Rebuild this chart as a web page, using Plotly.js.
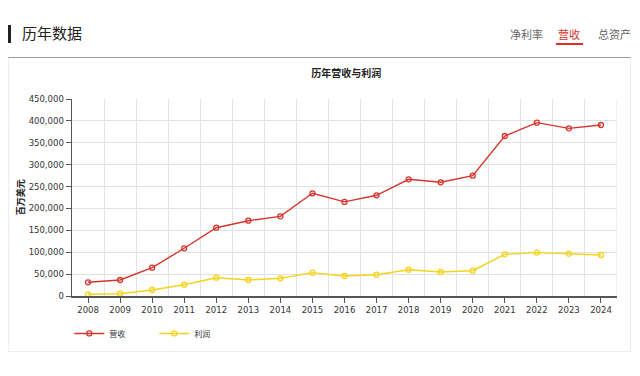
<!DOCTYPE html>
<html><head><meta charset="utf-8">
<script src="https://cdn.plot.ly/plotly-3.0.1.min.js"></script>
<style>
html,body{margin:0;padding:0;background:#fff;width:640px;height:376px;overflow:hidden;font-family:"Noto Sans CJK SC","Noto Sans",sans-serif;}
#bar{position:absolute;left:8px;top:25px;width:3px;height:18px;background:#222;}
#head{position:absolute;left:22px;top:22px;font-size:15px;color:#222;line-height:22px;}
.tab{position:absolute;top:26px;font-size:11px;color:#666;line-height:16px;}
#ul{position:absolute;left:556px;top:43px;width:27px;height:2px;background:#d9302c;}
#card{position:absolute;left:8px;top:57px;width:623px;height:295px;border:1px solid #eee;border-top:1px solid #999;box-sizing:border-box;}
#chart{position:absolute;left:0;top:0;width:640px;height:376px;}
</style></head>
<body>
<div id="bar"></div>
<div id="head">历年数据</div>
<div class="tab" style="left:510px;">净利率</div>
<div class="tab" style="left:558px;color:#d9302c;">营收</div>
<div class="tab" style="left:598px;">总资产</div>
<div id="ul"></div>
<div id="card"></div>
<div id="chart"></div>
<script>
const years = ["2008","2009","2010","2011","2012","2013","2014","2015","2016","2017","2018","2019","2020","2021","2022","2023","2024"];
const revenue = [31300,36500,64700,109000,156000,172000,182000,234600,215000,230000,266500,259700,274800,365500,396000,383000,390600];
const profit = [3900,5300,13700,25800,41800,36500,40400,53300,45700,48700,60000,54800,57800,95200,99000,96700,93700];
const yTicks = [0,50000,100000,150000,200000,250000,300000,350000,400000,450000];
const yTickText = yTicks.map(v => v.toLocaleString('en-US'));
const xIdx = years.map((_, i) => i);

const traces = [
  {x: xIdx, y: revenue, name: "营收", type: "scatter", mode: "lines+markers",
   line: {color: "#d6352d", width: 1.4},
   marker: {symbol: "circle-open", size: 5, color: "#d6352d", line: {width: 1.3}}},
  {x: xIdx, y: profit, name: "利润", type: "scatter", mode: "lines+markers",
   line: {color: "#f5d31a", width: 1.4},
   marker: {symbol: "circle-open", size: 5, color: "#f5d31a", line: {width: 1.3}}}
];

const layout = {
  width: 640, height: 376,
  margin: {l: 72, r: 23, t: 99, b: 80},
  paper_bgcolor: "rgba(0,0,0,0)", plot_bgcolor: "rgba(0,0,0,0)",
  font: {family: "DejaVu Sans, Verdana, sans-serif", size: 8.5, color: "#333"},
  title: {text: "<b>历年营收与利润</b>", x: 0.541, xanchor: "center", y: 0.805, yanchor: "middle",
          font: {family: "Noto Sans CJK SC, sans-serif", size: 10, color: "#222"}},
  xaxis: {
    range: [-0.5, 16.5], tickvals: xIdx, ticktext: years, showgrid: false,
    ticks: "outside", ticklen: 5, tickcolor: "#555", showline: true, linecolor: "#555", linewidth: 1.5,
    zeroline: false, fixedrange: true,
    minor: {tick0: 0.5, dtick: 1, showgrid: true, gridcolor: "#e2e2e2", gridwidth: 1, ticks: ""},
    tickfont: {size: 8.5, color: "#333"}
  },
  yaxis: {
    range: [0, 450000], tickvals: yTicks, ticktext: yTickText,
    showgrid: true, gridcolor: "#e2e2e2", gridwidth: 1,
    ticks: "outside", ticklen: 5, tickcolor: "#555", showline: true, linecolor: "#555", linewidth: 1.5,
    zeroline: false, fixedrange: true,
    tickfont: {size: 8.5, color: "#333"}
  },
  annotations: [
    {text: "<b>百万美元</b>", xref: "paper", yref: "paper", x: -0.094, y: 0.5, xanchor: "center", yanchor: "middle",
     textangle: -90, showarrow: false, font: {family: "Noto Sans CJK SC, sans-serif", size: 9, color: "#222"}}
  ],
  shapes: [
    {type: "line", xref: "x", yref: "paper", x0: 16.5, x1: 16.5, y0: 0, y1: 1, line: {color: "#e2e2e2", width: 1}}
  ],
  showlegend: true,
  legend: {orientation: "h", x: -0.005, xanchor: "left", y: -0.19, yanchor: "middle",
           entrywidth: 40, entrywidthmode: "pixels", itemwidth: 30,
           font: {family: "Noto Sans CJK SC, sans-serif", size: 8, color: "#333"}, bgcolor: "rgba(0,0,0,0)"}
};
Plotly.newPlot("chart", traces, layout, {displayModeBar: false, staticPlot: true});
</script>
</body></html>
